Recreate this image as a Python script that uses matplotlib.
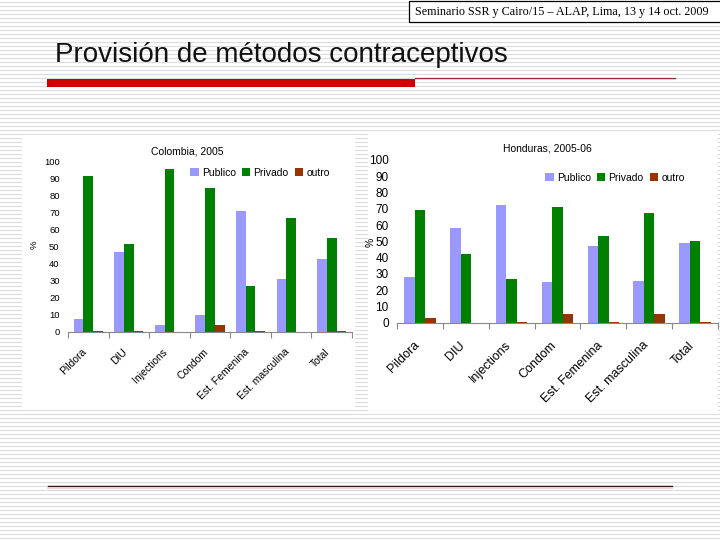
import matplotlib
matplotlib.use("Agg")
import matplotlib.pyplot as plt
import matplotlib.transforms as mtransforms
import numpy as np
from matplotlib.patches import Rectangle

categories = ["Pildora", "DIU", "Injections", "Condom", "Est. Femenina", "Est. masculina", "Total"]
series_names = ["Publico", "Privado", "outro"]

col_publico = [7.6, 47, 3.9, 9.6, 71, 31, 43]
col_privado = [91.6, 51.4, 95.7, 84.5, 27, 66.9, 55.1]
col_outro = [0.3, 0.3, 0.0, 3.9, 0.3, 0.0, 0.3]

hon_publico = [28.3, 58, 72.3, 24.8, 46.9, 25.6, 49]
hon_privado = [69.3, 42.2, 26.8, 71.3, 53, 67.6, 50]
hon_outro = [2.8, 0.0, 0.3, 5.3, 0.3, 5.3, 0.3]

yticks = [0, 10, 20, 30, 40, 50, 60, 70, 80, 90, 100]
colors = ["#9999FF", "#008000", "#993300"]

W, H = 720, 540
fig = plt.figure(figsize=(7.2, 5.4), dpi=100)
fig.patch.set_facecolor("white")

# background (pixel coordinates)
bg = fig.add_axes([0, 0, 1, 1], zorder=-10)
bg.set_xlim(0, W)
bg.set_ylim(H, 0)
bg.axis("off")
for yy in range(1, H, 4):
    bg.axhline(yy + 0.5, color="#dcdcdc", lw=0.8, zorder=0)

# chart panels
bg.add_patch(Rectangle((22, 135), 333, 275, facecolor="white", edgecolor="none", zorder=2))
bg.add_patch(Rectangle((368, 133), 350, 279, facecolor="white", edgecolor="none", zorder=2))

# header box
bg.add_patch(Rectangle((408.5, 1), 320, 20.5, facecolor="white", edgecolor="black", lw=0.9,
                       zorder=2, clip_on=False))
bg.text(562, 11.5, "Seminario SSR y Cairo/15 – ALAP, Lima, 13 y 14 oct. 2009",
        family="Liberation Serif", fontsize=8.7, ha="center", va="center", color="black",
        zorder=3)

# title
bg.text(55, 61.5, "Provisión de métodos contraceptivos", family="Liberation Sans",
        fontsize=20, ha="left", va="baseline", color="#111111", zorder=3)
bg.add_patch(Rectangle((47, 78.5), 368, 8.5, facecolor="#CC0000", edgecolor="none", zorder=3))
bg.plot([415, 675], [77.8, 77.8], color="#8a2a2a", lw=0.9, zorder=3)
bg.plot([415, 675], [79.0, 79.0], color="#f4c8c8", lw=0.8, zorder=3)

# bottom line
bg.plot([48, 672], [486, 486], color="#3a1515", lw=1.0, zorder=3)
bg.plot([48, 672], [487.5, 487.5], color="#f2d0d0", lw=1.2, zorder=3)


def draw_chart(rect, title, pub, pri, out, tick_fs, ytick_pad, xl_fs, xl_pad, xl_dx,
               title_xy, leg_xy, ylab_xy, ylab_fs, width):
    ax = fig.add_axes(rect)
    ax.set_facecolor("none")
    x = np.arange(len(categories))
    for j, (vals, c) in enumerate(zip([pub, pri, out], colors)):
        ax.bar(x + (j - 1) * width, vals, width, color=c, label=series_names[j], lw=0)
    ax.set_xlim(-0.5, len(categories) - 0.5)
    ax.set_ylim(0, 100)
    ax.set_yticks(yticks)
    ax.set_yticklabels([str(t) for t in yticks], fontsize=tick_fs, family="Liberation Sans")
    ax.tick_params(axis="y", length=0, pad=ytick_pad)
    ax.set_xticks(x)
    ax.set_xticklabels(categories, rotation=45, ha="right", rotation_mode="anchor",
                       fontsize=xl_fs, family="Liberation Sans")
    ax.tick_params(axis="x", length=0, pad=xl_pad)
    offset = mtransforms.ScaledTranslation(xl_dx / 100, 0, fig.dpi_scale_trans)
    for lab in ax.get_xticklabels():
        lab.set_transform(lab.get_transform() + offset)
    ax.set_xticks(np.arange(len(categories) + 1) - 0.5, minor=True)
    ax.tick_params(axis="x", which="minor", length=4, color="#888888", width=0.8)
    for s in ["top", "right", "left"]:
        ax.spines[s].set_visible(False)
    ax.spines["bottom"].set_color("#888888")
    ax.spines["bottom"].set_linewidth(0.8)
    fig.text(title_xy[0] / W, 1 - title_xy[1] / H, title, ha="center", va="center",
             fontsize=7.5, family="Liberation Sans")
    fig.text(ylab_xy[0] / W, 1 - ylab_xy[1] / H, "%", ha="center", va="center",
             rotation=90, fontsize=ylab_fs, family="Liberation Sans")
    handles, labels = ax.get_legend_handles_labels()
    fig.legend(handles, labels, loc="center", bbox_to_anchor=(leg_xy[0] / W, 1 - leg_xy[1] / H),
               ncol=3, frameon=False, handlelength=0.8, handleheight=0.8,
               handletextpad=0.3, columnspacing=0.6, prop={"family": "Liberation Sans", "size": 7.5})
    return ax


draw_chart([68 / W, 1 - 331.7 / H, 284 / W, 170 / H], "Colombia, 2005",
           col_publico, col_privado, col_outro, 6.8, 6, 7.5, 11, -7,
           (187, 152), (260, 173), (34, 245), 6.8, 0.24)
draw_chart([397 / W, 1 - 322.7 / H, 321 / W, 162.7 / H], "Honduras, 2005-06",
           hon_publico, hon_privado, hon_outro, 8.5, 6, 9, 12, -7,
           (547, 148), (615, 178), (371, 242), 7.5, 0.23)

fig.savefig("out.png", dpi=100)
